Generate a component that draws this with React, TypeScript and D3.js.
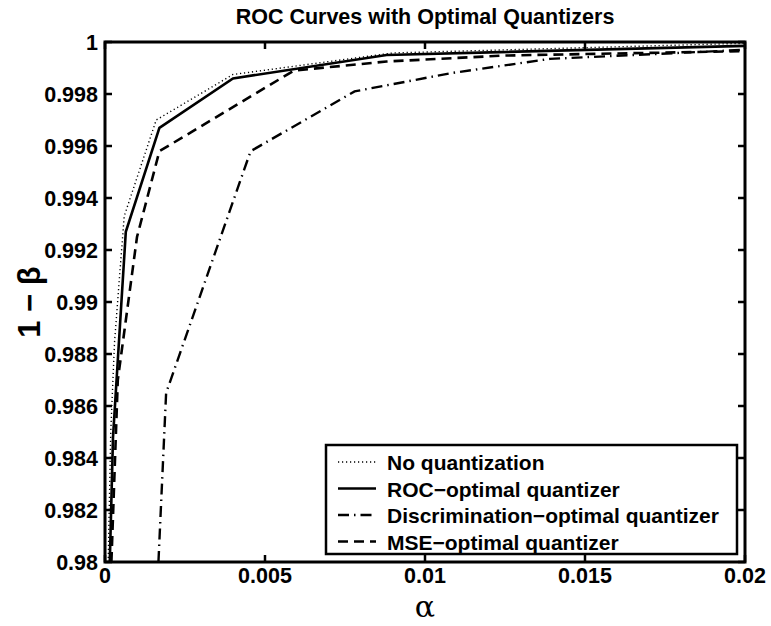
import React from "react";
import * as d3 from "d3";

const noQuantAlpha = [0.0001, 0.00018, 0.0003, 0.0006, 0.0016, 0.004, 0.009, 0.02];
const noQuantPd = [0.98, 0.985, 0.9885, 0.9933, 0.997, 0.99875, 0.99958, 0.99995];

const rocAlpha = [0.00015, 0.00025, 0.00065, 0.0017, 0.004, 0.0088, 0.02];
const rocPd = [0.98, 0.9848, 0.9927, 0.9967, 0.9986, 0.9995, 0.99985];

const discAlpha = [0.00167, 0.00191, 0.00455, 0.0078, 0.0108, 0.0139, 0.02];
const discPd = [0.98, 0.9865, 0.9958, 0.9981, 0.9988, 0.99935, 0.9997];

const mseAlpha = [0.0002, 0.0004, 0.001, 0.0017, 0.0059, 0.0088, 0.0125, 0.02];
const msePd = [0.98, 0.987, 0.9925, 0.9958, 0.9989, 0.99925, 0.99948, 0.99965];

const xTicks = [0, 0.005, 0.01, 0.015, 0.02];
const xTickLabels = ["0", "0.005", "0.01", "0.015", "0.02"];
const yTicks = [0.98, 0.982, 0.984, 0.986, 0.988, 0.99, 0.992, 0.994, 0.996, 0.998, 1];
const yTickLabels = ["0.98", "0.982", "0.984", "0.986", "0.988", "0.99", "0.992", "0.994", "0.996", "0.998", "1"];

const seriesNames = [
  "No quantization",
  "ROC\u2212optimal quantizer",
  "Discrimination\u2212optimal quantizer",
  "MSE\u2212optimal quantizer",
];

const W = 771;
const H = 626;
const L = 105, R = 745, T = 42, B = 562;
const FONT = "'Liberation Sans', Arial, Helvetica, sans-serif";

export default function App() {
  const x = d3.scaleLinear().domain([0, 0.02]).range([L, R]);
  const y = d3.scaleLinear().domain([0.98, 1]).range([B, T]);
  const line = d3
    .line<[number, number]>()
    .x((d) => x(d[0]))
    .y((d) => y(d[1]));

  const styles = [
    { dash: "1.2,2.8", width: 1.4 },
    { dash: "none", width: 2.6 },
    { dash: "11,5,1.5,5", width: 2.4 },
    { dash: "10,6", width: 2.6 },
  ];
  const series: [number[], number[]][] = [
    [noQuantAlpha, noQuantPd],
    [rocAlpha, rocPd],
    [discAlpha, discPd],
    [mseAlpha, msePd],
  ];

  const legX = 326, legY = 445, legW = 411, legH = 109, rowH = 26.5;
  const tickLen = 7;

  return (
    <svg
      width={W}
      height={H}
      style={{ position: "absolute", left: 0, top: 0, background: "#fff" }}
      fontFamily={FONT}
    >
      <rect x={0} y={0} width={W} height={H} fill="#fff" />
      <defs>
        <clipPath id="plotclip">
          <rect x={L} y={T} width={R - L} height={B - T} />
        </clipPath>
      </defs>
      <g clipPath="url(#plotclip)">
        {series.map(([xs, ys], i) => (
          <path
            key={i}
            d={line(xs.map((v, j) => [v, ys[j]] as [number, number])) || ""}
            fill="none"
            stroke="#000"
            strokeWidth={styles[i].width}
            strokeDasharray={styles[i].dash}
            strokeLinejoin="miter"
          />
        ))}
      </g>
      <rect x={L} y={T} width={R - L} height={B - T} fill="none" stroke="#000" strokeWidth={3} />
      {xTicks.map((t, i) => (
        <g key={"xt" + i}>
          <line x1={x(t)} x2={x(t)} y1={B} y2={B - tickLen} stroke="#000" strokeWidth={2.5} />
          <line x1={x(t)} x2={x(t)} y1={T} y2={T + tickLen} stroke="#000" strokeWidth={2.5} />
          <text x={x(t)} y={B + 21} textAnchor="middle" fontSize={21.5} fontWeight="bold">
            {xTickLabels[i]}
          </text>
        </g>
      ))}
      {yTicks.map((t, i) => (
        <g key={"yt" + i}>
          <line x1={L} x2={L + tickLen} y1={y(t)} y2={y(t)} stroke="#000" strokeWidth={2.5} />
          <line x1={R} x2={R - tickLen} y1={y(t)} y2={y(t)} stroke="#000" strokeWidth={2.5} />
          <text x={L - 7} y={y(t) + 8} textAnchor="end" fontSize={21.5} fontWeight="bold">
            {yTickLabels[i]}
          </text>
        </g>
      ))}
      <text x={(L + R) / 2} y={24} textAnchor="middle" fontSize={21.5} fontWeight="bold">
        ROC Curves with Optimal Quantizers
      </text>
      <text
        x={(L + R) / 2}
        y={617}
        textAnchor="middle"
        fontSize={30}
        fontFamily="'DejaVu Serif', 'Liberation Serif', serif"
      >
        α
      </text>
      <text
        transform={`translate(40, ${(T + B) / 2}) rotate(-90)`}
        textAnchor="middle"
        fontSize={31}
        fontWeight="bold"
      >
        1 − β
      </text>
      <rect x={legX} y={legY} width={legW} height={legH} fill="#fff" stroke="#000" strokeWidth={2.5} />
      {seriesNames.map((name, i) => {
        const cy = legY + 17 + i * rowH;
        return (
          <g key={"lg" + i}>
            <line
              x1={legX + 12}
              x2={legX + 50}
              y1={cy}
              y2={cy}
              stroke="#000"
              strokeWidth={styles[i].width}
              strokeDasharray={styles[i].dash}
            />
            <text x={legX + 61} y={cy + 8} fontSize={21} fontWeight="bold">
              {name}
            </text>
          </g>
        );
      })}
    </svg>
  );
}
